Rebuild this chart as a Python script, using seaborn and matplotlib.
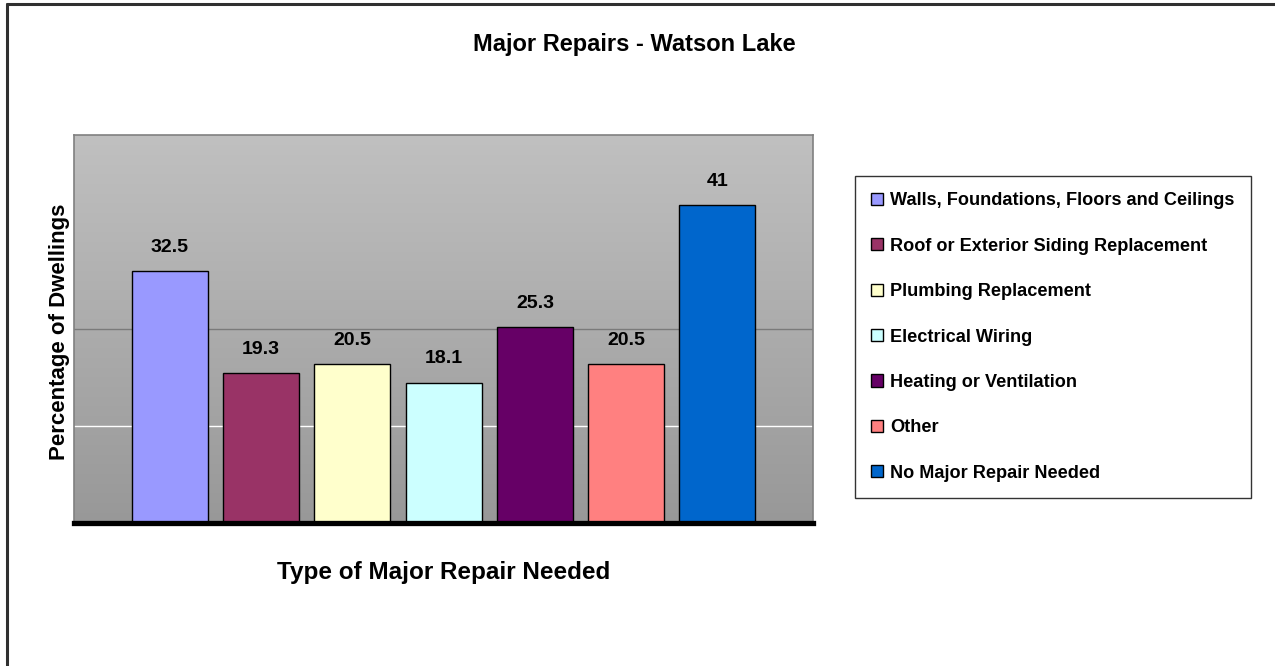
import numpy as np
import matplotlib
matplotlib.use("Agg")
import matplotlib.pyplot as plt
from matplotlib.patches import Patch
from matplotlib.lines import Line2D
import seaborn as sns

# Data
categories = [
    "Walls, Foundations, Floors and Ceilings",
    "Roof or Exterior Siding Replacement",
    "Plumbing Replacement",
    "Electrical Wiring",
    "Heating or Ventilation",
    "Other",
    "No Major Repair Needed",
]
values = [32.5, 19.3, 20.5, 18.1, 25.3, 20.5, 41]
colors = ["#9999FF", "#993366", "#FFFFCC", "#CCFFFF", "#660066", "#FF8080", "#0066CC"]

title = "Major Repairs - Watson Lake"
x_title = "Type of Major Repair Needed"
y_title = "Percentage of Dwellings"

sns.set_style("white")
plt.rcParams["font.family"] = ["Liberation Sans", "DejaVu Sans"]
plt.rcParams["font.weight"] = "bold"
plt.rcParams["text.color"] = "black"

W, H = 1275, 666
fig = plt.figure(figsize=(W / 100, H / 100), dpi=100)

# plot area
ax = fig.add_axes([74 / W, 1 - 523 / H, (813 - 74) / W, (523 - 135) / H])

x_lo, x_hi = -1.052, 7.047
y_hi = 50

# vertical grey gradient behind the bars: light at top, darker at bottom
grad = np.linspace(0, 1, 256).reshape(-1, 1, 1)
top_c = np.array([0xC0, 0xC0, 0xC0]) / 255
bot_c = np.array([0x98, 0x98, 0x98]) / 255
img = top_c * (1 - grad) + bot_c * grad
ax.imshow(img, extent=(x_lo, x_hi, 0, y_hi), aspect="auto", zorder=0, origin="upper")

ax.axhline(25, color="#7a7a7a", lw=1.0, zorder=1)
ax.axhline(12.5, color="white", lw=1.0, zorder=1)

sns.barplot(
    x=list(range(len(categories))), y=values, hue=categories, palette=colors,
    hue_order=categories, dodge=False, width=0.833, edgecolor="black",
    linewidth=1.0, legend=False, ax=ax, native_scale=True, saturation=1,
    zorder=2,
)
ax.set_xlim(x_lo, x_hi)
ax.set_ylim(0, y_hi)

for i, v in enumerate(values):
    ax.annotate(f"{v:g}", xy=(i, v), xytext=(0, 17), textcoords="offset points",
                ha="center", va="center", fontsize=14, fontweight="bold", color="black")

ax.set_xticks([])
ax.set_yticks([])
ax.set_xlabel("")
ax.set_ylabel("")
for side in ["top", "left", "right"]:
    ax.spines[side].set_color("#808080")
    ax.spines[side].set_linewidth(1.2)
ax.spines["bottom"].set_color("black")
ax.spines["bottom"].set_linewidth(3.8)

# titles
fig.text(634 / W, 1 - 45 / H, title, ha="center", va="center",
         fontsize=17, fontweight="bold", color="black")
fig.text(444 / W, 1 - 573 / H, x_title, ha="center", va="center",
         fontsize=17.5, fontweight="bold", color="black")
fig.text(59 / W, 1 - 332 / H, y_title, ha="center", va="center",
         rotation=90, fontsize=16, fontweight="bold", color="black")

# legend
handles = [Patch(facecolor=c, edgecolor="black", linewidth=1.0) for c in colors]
leg = fig.legend(
    handles, categories, loc="upper left",
    bbox_to_anchor=(855 / W, 1 - 176 / H), bbox_transform=fig.transFigure,
    frameon=True, fancybox=False, edgecolor="black", borderaxespad=0,
    prop={"size": 13.1, "weight": "bold"},
    handlelength=0.65, handleheight=0.65, handletextpad=0.4,
    labelspacing=1.56, borderpad=0.9,
)
leg.get_frame().set_linewidth(1.0)
for t in leg.get_texts():
    t.set_color("black")

# outer border of the chart object
fig.add_artist(Line2D([6.5 / W, 1.0], [1 - 4 / H, 1 - 4 / H], color="#303030",
                      lw=2.2, transform=fig.transFigure))
fig.add_artist(Line2D([6.5 / W, 6.5 / W], [1 - 4 / H, 0.0], color="#303030",
                      lw=2.2, transform=fig.transFigure))

fig.savefig("out.png", dpi=100)
